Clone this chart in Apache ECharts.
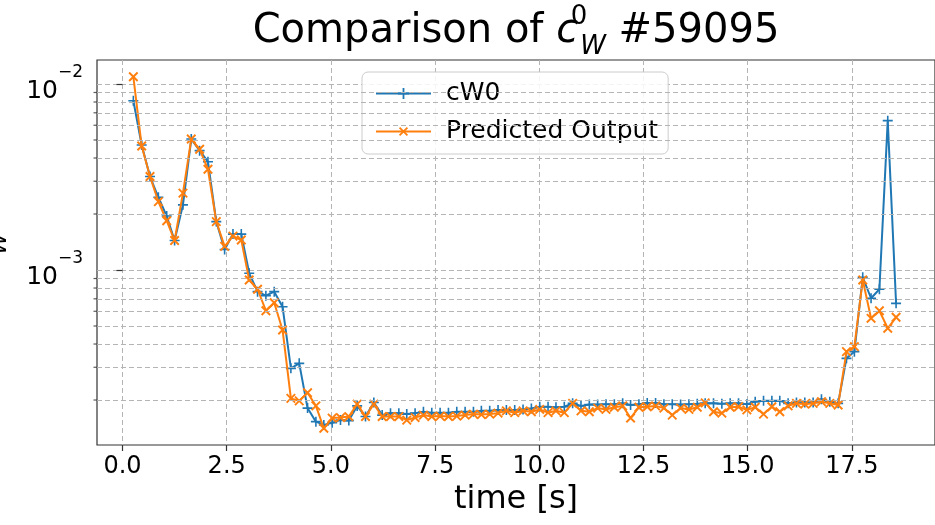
<!DOCTYPE html>
<html><head><meta charset="utf-8">
<script src="https://cdn.jsdelivr.net/npm/echarts@6/dist/echarts.min.js"></script>
<style>html,body{margin:0;padding:0;background:#fff}#c{width:935px;height:525px}</style>
</head><body><div id="c"></div>
<script>
const times = [0.26,0.46,0.66,0.86,1.06,1.25,1.45,1.65,1.85,2.05,
 2.25,2.45,2.65,2.85,3.04,3.24,3.44,3.64,3.84,4.04,
 4.24,4.44,4.64,4.83,5.03,5.23,5.43,5.63,5.83,6.03,
 6.23,6.43,6.63,6.82,7.02,7.22,7.42,7.62,7.82,8.02,
 8.22,8.42,8.61,8.81,9.01,9.21,9.41,9.61,9.81,10.01,
 10.21,10.40,10.60,10.80,11.00,11.20,11.40,11.60,11.80,12.00,
 12.19,12.39,12.59,12.79,12.99,13.19,13.39,13.59,13.79,13.98,
 14.18,14.38,14.58,14.78,14.98,15.18,15.38,15.58,15.77,15.97,
 16.17,16.37,16.57,16.77,16.97,17.17,17.37,17.56,17.76,17.96,
 18.16,18.36,18.56];
const cw0 = [0.00813,0.00470,0.00318,0.00246,0.00195,0.00144,0.00224,0.00506,0.00438,0.00382,
 0.00182,0.00129,0.00156,0.00156,0.000960,0.000765,0.000728,0.000765,0.000635,0.000296,
 0.000315,0.000181,0.000153,0.000147,0.000151,0.000156,0.000155,0.000186,0.000163,0.000194,
 0.000166,0.000170,0.000170,0.000168,0.000170,0.000173,0.000171,0.000171,0.000171,0.000173,
 0.000173,0.000173,0.000175,0.000175,0.000177,0.000177,0.000177,0.000178,0.000180,0.000184,
 0.000184,0.000183,0.000184,0.000192,0.000186,0.000189,0.000189,0.000190,0.000190,0.000192,
 0.000188,0.000190,0.000193,0.000193,0.000190,0.000190,0.000189,0.000190,0.000191,0.000192,
 0.000192,0.000191,0.000192,0.000192,0.000190,0.000196,0.000198,0.000198,0.000198,0.000192,
 0.000194,0.000194,0.000194,0.000202,0.000196,0.000192,0.000335,0.000364,0.000914,0.000705,
 0.000788,0.00635,0.000662];
const predicted = [0.01094,0.00464,0.00318,0.00233,0.00184,0.00144,0.00259,0.00506,0.00446,0.00348,
 0.00182,0.00134,0.00152,0.00145,0.000884,0.000788,0.000604,0.000667,0.000476,0.000204,
 0.000198,0.000219,0.000186,0.000141,0.000160,0.000161,0.000163,0.000190,0.000163,0.000190,
 0.000163,0.000163,0.000163,0.000156,0.000161,0.000166,0.000163,0.000164,0.000163,0.000164,
 0.000166,0.000168,0.000167,0.000168,0.000170,0.000175,0.000171,0.000175,0.000173,0.000178,
 0.000171,0.000175,0.000171,0.000192,0.000175,0.000173,0.000181,0.000178,0.000183,0.000186,
 0.000160,0.000183,0.000184,0.000186,0.000181,0.000166,0.000181,0.000178,0.000183,0.000193,
 0.000173,0.000170,0.000183,0.000184,0.000177,0.000183,0.000168,0.000184,0.000173,0.000186,
 0.000192,0.000190,0.000192,0.000196,0.000192,0.000188,0.000364,0.000387,0.000884,0.000550,
 0.000604,0.000486,0.000557];
const xTickLabels = [0, 2.5, 5, 7.5, 10, 12.5, 15, 17.5];
const yMajorTicks = [0.001, 0.01];
const yMinorTicks = [2e-4,3e-4,4e-4,5e-4,6e-4,7e-4,8e-4,9e-4,2e-3,3e-3,4e-3,5e-3,6e-3,7e-3,8e-3,9e-3];

const FONT = 'DejaVu Sans';
const X_MIN = -0.612, X_MAX = 19.494, Y_MIN = 1.1463e-4, Y_MAX = 0.013455;
const GRID_COLOR = '#b4b4b4';
const PLUS = 'path://M4.2,0H5.8V10H4.2Z M0,4.2H10V5.8H0Z';
const pair = (xs, ys) => xs.map((x, i) => [x, ys[i]]);
const noBounds = {outerBoundsMode: 'none', containLabel: false};

const chart = echarts.init(document.getElementById('c'), null, {renderer: 'canvas'});
chart.setOption({
  animation: false,
  backgroundColor: '#fff',
  textStyle: {fontFamily: FONT},
  title: {
    text: 'Comparison of {c|c}{s|0}{w|W} #59095',
    left: 516, top: 4, textAlign: 'center', padding: 0,
    textStyle: {
      fontFamily: FONT, fontSize: 40, fontWeight: 'normal', color: '#000', lineHeight: 56,
      rich: {
        c: {fontFamily: FONT, fontSize: 40, fontStyle: 'italic', color: '#000', lineHeight: 56},
        s: {fontFamily: FONT, fontSize: 26, color: '#000', width: 2, lineHeight: 54, verticalAlign: 'top'},
        w: {fontFamily: FONT, fontSize: 26, fontStyle: 'italic', color: '#000', lineHeight: 29, verticalAlign: 'bottom'}
      }
    }
  },
  legend: {
    data: ['cW0', 'Predicted Output'],
    orient: 'vertical', left: 362, top: 72,
    padding: [9, 10, 10, 13], itemGap: 13, itemWidth: 55, itemHeight: 14,
    backgroundColor: 'rgba(255,255,255,0.85)', borderColor: '#cccccc', borderWidth: 1, borderRadius: 6,
    textStyle: {fontFamily: FONT, fontSize: 25, color: '#000', padding: [0, 0, 0, 10]}
  },
  grid: [
    Object.assign({left: 97, right: 0, top: 60, bottom: 80, show: true, borderColor: '#333', borderWidth: 1.2, backgroundColor: 'transparent'}, noBounds),
    Object.assign({left: 122.5, right: 83.1, top: 60, bottom: 80}, noBounds),
    Object.assign({left: 97, right: 0, top: 84, bottom: 255}, noBounds)
  ],
  xAxis: [
    {gridIndex: 0, type: 'value', min: X_MIN, max: X_MAX,
     axisLine: {show: false}, axisTick: {show: false}, axisLabel: {show: false}, splitLine: {show: false},
     name: 'time [s]', nameLocation: 'middle', nameGap: 39,
     nameTextStyle: {fontFamily: FONT, fontSize: 32, color: '#000'}},
    {gridIndex: 1, type: 'value', min: xTickLabels[0], max: xTickLabels[xTickLabels.length - 1], interval: 2.5,
     axisLine: {show: false}, axisTick: {show: true, length: 6, lineStyle: {color: '#333', width: 1.2}},
     axisLabel: {fontFamily: FONT, fontSize: 24, color: '#000', margin: 10, formatter: v => v.toFixed(1)},
     splitLine: {show: true, lineStyle: {color: GRID_COLOR, type: [5, 3], width: 1}}},
    {gridIndex: 2, type: 'value', show: false, min: X_MIN, max: X_MAX}
  ],
  yAxis: [
    {gridIndex: 0, type: 'log', logBase: 10, min: Y_MIN, max: Y_MAX,
     axisLine: {show: false}, axisTick: {show: false}, axisLabel: {show: false}, splitLine: {show: false},
     name: '{c|c}{w|W}', nameLocation: 'middle', nameRotate: 90, nameGap: 86,
     nameTextStyle: {fontFamily: FONT, fontSize: 32, color: '#000', rich: {
       c: {fontFamily: FONT, fontSize: 32, fontStyle: 'italic', color: '#000', lineHeight: 40},
       w: {fontFamily: FONT, fontSize: 22, fontStyle: 'italic', color: '#000', lineHeight: 24, verticalAlign: 'bottom'}}}},
    {gridIndex: 1, type: 'value', show: false, min: 0, max: 1},
    {gridIndex: 2, type: 'log', logBase: 10, min: yMajorTicks[0], max: yMajorTicks[1],
     axisLine: {show: false}, axisTick: {show: true, length: 6, lineStyle: {color: '#333', width: 1.2}},
     axisLabel: {margin: 14, formatter: v => '{b|10}{s|\u2212' + Math.round(-Math.log10(v)) + '}',
       rich: {b: {fontFamily: FONT, fontSize: 25, color: '#000', lineHeight: 30, verticalAlign: 'bottom'},
              s: {fontFamily: FONT, fontSize: 17, color: '#000', lineHeight: 40, verticalAlign: 'top'}}},
     splitLine: {show: true, lineStyle: {color: GRID_COLOR, type: [5, 3], width: 1}}}
  ],
  series: [
    {name: 'minor grid', type: 'line', xAxisIndex: 0, yAxisIndex: 0, data: [], silent: true, z: 1,
     markLine: {silent: true, symbol: ['none', 'none'], animation: false, label: {show: false},
       emphasis: {disabled: true},
       lineStyle: {color: GRID_COLOR, type: [5, 3], width: 1},
       data: yMinorTicks.map(v => [{coord: [X_MIN, v]}, {coord: [X_MAX, v]}])}},
    {name: 'cW0', type: 'line', xAxisIndex: 0, yAxisIndex: 0, data: pair(times, cw0),
     color: '#1f77b4', symbol: PLUS, symbolSize: 10, showAllSymbol: true,
     lineStyle: {width: 2, color: '#1f77b4'}, itemStyle: {color: '#1f77b4'}, z: 3},
    {name: 'Predicted Output', type: 'line', xAxisIndex: 0, yAxisIndex: 0, data: pair(times, predicted),
     color: '#ff7f0e', symbol: PLUS, symbolRotate: 45, symbolSize: 12, showAllSymbol: true,
     lineStyle: {width: 2, color: '#ff7f0e'}, itemStyle: {color: '#ff7f0e'}, z: 4},
    {name: 'minor ticks', type: 'scatter', xAxisIndex: 0, yAxisIndex: 0, clip: false, silent: true,
     data: yMinorTicks.map(v => [X_MIN, v]), symbol: 'rect', symbolSize: [3.5, 1.2], symbolOffset: [-1.75, 0],
     itemStyle: {color: '#333'}, z: 5}
  ]
});
</script></body></html>
